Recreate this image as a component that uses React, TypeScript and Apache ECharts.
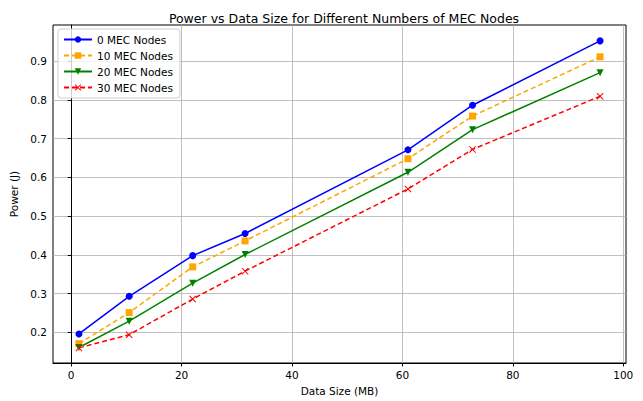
import React, { useEffect, useRef } from "react";
import * as echarts from "echarts";

const dataSizes = [1.4, 10.5, 22, 31.5, 61, 72.7, 95.8];
const mec0 = [0.196, 0.293, 0.398, 0.455, 0.671, 0.786, 0.952];
const mec10 = [0.171, 0.251, 0.369, 0.436, 0.648, 0.758, 0.911];
const mec20 = [0.161, 0.229, 0.327, 0.401, 0.613, 0.723, 0.870];
const mec30 = [0.160, 0.194, 0.286, 0.358, 0.570, 0.672, 0.809];
const xTicks = [0, 20, 40, 60, 80, 100];
const yTicks = [0.2, 0.3, 0.4, 0.5, 0.6, 0.7, 0.8, 0.9];
const seriesNames = ["0 MEC Nodes", "10 MEC Nodes", "20 MEC Nodes", "30 MEC Nodes"];

const font = "DejaVu Sans";
const xMark = "path://M0,1L1,0L5,4L9,0L10,1L6,5L10,9L9,10L5,6L1,10L0,9L4,5Z";

export default function App() {
  const ref = useRef<HTMLDivElement>(null);
  useEffect(() => {
    const chart = echarts.init(ref.current!, null, { renderer: "svg" });
    const pair = (ys: number[]) => dataSizes.map((x, i) => [x, ys[i]]);
    const mk = (
      name: string,
      ys: number[],
      color: string,
      dashed: boolean,
      symbol: string,
      size: number,
      rotate = 0
    ) => ({
      name,
      type: "line",
      data: pair(ys),
      symbol,
      symbolSize: size,
      symbolRotate: rotate,
      showSymbol: true,
      lineStyle: { color, width: 1.5, type: dashed ? [5, 3] : "solid" },
      itemStyle: { color, borderWidth: 0 },
      emphasis: { disabled: true },
      z: 3,
    });
    chart.setOption({
      animation: false,
      textStyle: { fontFamily: font },
      title: {
        text: "Power vs Data Size for Different Numbers of MEC Nodes",
        left: 339,
        top: 7,
        textAlign: "center",
        textStyle: { fontFamily: font, fontSize: 12.5, fontWeight: "normal", color: "#000" },
      },
      legend: {
        orient: "vertical",
        left: 58,
        top: 29,
        itemWidth: 28,
        itemHeight: 8,
        itemGap: 5,
        padding: [5, 7, 5, 5],
        backgroundColor: "rgba(255,255,255,0.8)",
        borderColor: "#d0d0d0",
        borderWidth: 1,
        borderRadius: 3,
        textStyle: { fontFamily: font, fontSize: 10.5, color: "#000" },
        data: seriesNames,
      },
      grid: {
        left: 53,
        right: 17,
        top: 25,
        bottom: 34,
        show: true,
        borderColor: "#000",
        borderWidth: 1,
      },
      xAxis: {
        type: "value",
        min: -3.3,
        max: 100.5,
        name: "Data Size (MB)",
        nameLocation: "middle",
        nameGap: 22,
        nameTextStyle: { fontFamily: font, fontSize: 10.5, color: "#000" },
        axisLine: { show: true, lineStyle: { color: "#000" } },
        axisTick: { show: true, length: 3.5, lineStyle: { color: "#000" }, customValues: xTicks },
        axisLabel: { fontFamily: font, fontSize: 10.5, color: "#000", margin: 6, customValues: xTicks },
        splitLine: { show: true, lineStyle: { color: "#b0b0b0", width: 0.8 } },
      },
      yAxis: {
        type: "value",
        min: 0.121,
        max: 0.993,
        name: "Power (J)",
        nameLocation: "middle",
        nameGap: 30,
        nameTextStyle: { fontFamily: font, fontSize: 10.5, color: "#000" },
        axisLine: { show: true, lineStyle: { color: "#000" } },
        axisTick: { show: true, length: 3.5, lineStyle: { color: "#000" }, customValues: yTicks },
        axisLabel: {
          fontFamily: font,
          fontSize: 10.5,
          color: "#000",
          margin: 6,
          customValues: yTicks,
          formatter: (v: number) => v.toFixed(1),
        },
        splitLine: { show: true, lineStyle: { color: "#b0b0b0", width: 0.8 } },
      },
      series: [
        mk(seriesNames[0], mec0, "#0000ff", false, "circle", 7),
        mk(seriesNames[1], mec10, "#ffa500", true, "rect", 7),
        mk(seriesNames[2], mec20, "#008000", false, "triangle", 7, 180),
        mk(seriesNames[3], mec30, "#ff0000", true, xMark, 7),
      ],
    });
    return () => chart.dispose();
  }, []);
  return <div ref={ref} style={{ width: 643, height: 401, position: "absolute", left: 0, top: 0 }} />;
}
